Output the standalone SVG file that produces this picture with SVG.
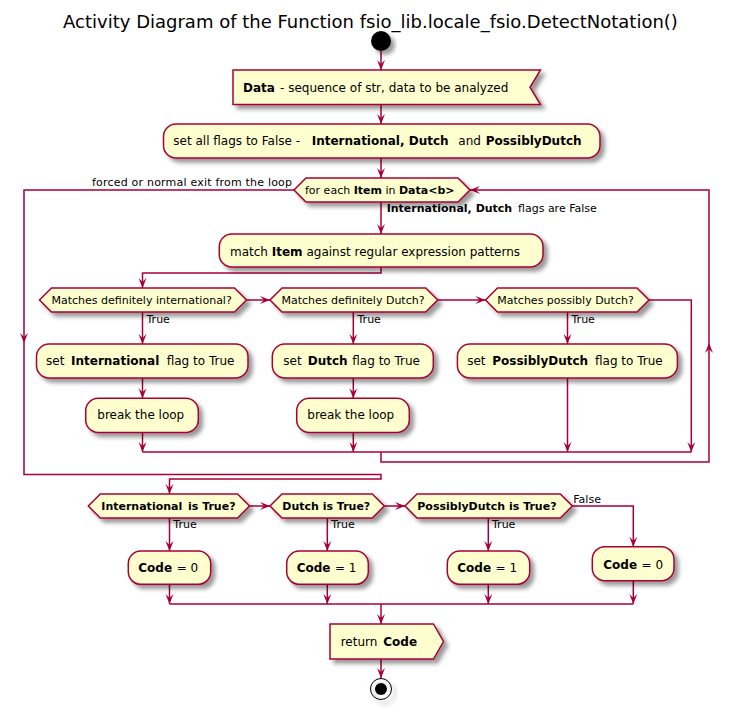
<svg xmlns="http://www.w3.org/2000/svg" width="734" height="708" viewBox="0 0 734 708">
<defs>
<filter id="sh" x="-20%" y="-40%" width="150%" height="200%">
<feGaussianBlur in="SourceAlpha" stdDeviation="2" result="b"/>
<feColorMatrix in="b" type="matrix" values="0 0 0 0 0  0 0 0 0 0  0 0 0 0 0  0 0 0 0.4 0" result="b2"/>
<feOffset in="b2" dx="4" dy="4" result="b3"/>
<feBlend in="SourceGraphic" in2="b3" mode="normal"/>
</filter>
<marker id="ah" viewBox="-11 -5 12 10" refX="0" refY="0" markerWidth="12" markerHeight="10" markerUnits="userSpaceOnUse" orient="auto">
<path d="M0,0 L-10,-4 L-6,0 L-10,4 Z" fill="#A80036"/>
</marker>
</defs>
<style>
.n{fill:#FEFECE;stroke:#A80036;stroke-width:1.5;filter:url(#sh)}
.c{fill:none;stroke:#A80036;stroke-width:1.5;marker-end:url(#ah)}
.l{fill:none;stroke:#A80036;stroke-width:1.5}
text{font-family:"DejaVu Sans","Liberation Sans",sans-serif;fill:#000}
.t12{font-size:12px}
.t11{font-size:11px}
.b{font-weight:bold}
</style>
<rect width="734" height="708" fill="#FFFFFF"/>
<text x="370.5" y="28" style="font-size:18px" text-anchor="middle">Activity Diagram of the Function fsio_lib.locale_fsio.DetectNotation()</text>

<g id="connectors">
<path class="c" d="M381,51 L381,70"/>
<path class="c" d="M381,104.5 L381,124"/>
<path class="c" d="M381,158 L381,178"/>
<path class="c" d="M381,202 L381,234"/>
<path class="c" d="M381,267 L381,273 L142.5,273 L142.5,288"/>
<path class="c" d="M246.5,300 L270,300"/>
<path class="c" d="M437.7,300 L485.5,300"/>
<path class="c" d="M649,300 L691.3,300 L691.3,452"/>
<path class="c" d="M142.5,312 L142.5,344"/>
<path class="c" d="M142.5,378 L142.5,398.3"/>
<path class="c" d="M142.5,432.5 L142.5,452"/>
<path class="c" d="M353.3,312 L353.3,344"/>
<path class="c" d="M353.3,378 L353.3,398.3"/>
<path class="c" d="M353.3,432.5 L353.3,452"/>
<path class="c" d="M567.5,312 L567.5,344"/>
<path class="c" d="M567.5,378 L567.5,452"/>
<path class="l" d="M142.5,452 L691.3,452"/>
<path class="c" d="M381,452 L381,462 L709,462 L709,343"/>
<path class="c" d="M709,343 L709,190 L470,190"/>
<path class="c" d="M294,190 L24,190 L24,343"/>
<path class="c" d="M24,343 L24,474.5 L381,474.5 L381,479 L169.5,479 L169.5,494"/>
<path class="c" d="M249.5,506 L270,506"/>
<path class="c" d="M384.3,506 L405,506"/>
<path class="c" d="M572.3,506 L633.3,506 L633.3,546.7"/>
<path class="c" d="M169.5,518 L169.5,551"/>
<path class="c" d="M327.3,518 L327.3,551"/>
<path class="c" d="M488.3,518 L488.3,551"/>
<path class="c" d="M169.5,584.3 L169.5,604"/>
<path class="c" d="M327.3,584.3 L327.3,604"/>
<path class="c" d="M488.3,584.3 L488.3,604"/>
<path class="c" d="M633.3,580.7 L633.3,604"/>
<path class="l" d="M169.5,604 L633.3,604"/>
<path class="c" d="M381,604 L381,624"/>
<path class="c" d="M381,659 L381,678"/>
<text class="t11" x="92" y="186" textLength="200" lengthAdjust="spacing">forced or normal exit from the loop</text>
<text class="t11" x="386.7" y="212.3"><tspan class="b">International, Dutch</tspan><tspan x="518">flags are False</tspan></text>
<text class="t11" x="146.5" y="322.7">True</text>
<text class="t11" x="357.5" y="322.7">True</text>
<text class="t11" x="571.5" y="322.7">True</text>
<text class="t11" x="173.3" y="527.7">True</text>
<text class="t11" x="331.3" y="527.7">True</text>
<text class="t11" x="492" y="527.7">True</text>
<text class="t11" x="573.3" y="503">False</text>
</g>

<g id="start">
<circle cx="381" cy="41" r="10" fill="#000000" filter="url(#sh)"/>
</g>

<g id="data">
<polygon class="n" points="233,70 540.5,70 530,87.25 540.5,104.5 233,104.5"/>
<text class="t12" x="243" y="91.5"><tspan class="b">Data</tspan><tspan x="280">- sequence of str, data to be analyzed</tspan></text>
</g>

<g id="setflags">
<rect class="n" x="163.5" y="124" width="436.5" height="34" rx="12.5"/>
<text class="t12" x="173.3" y="145">set all flags to False -<tspan class="b" x="311.7">International, Dutch</tspan><tspan x="458.3">and</tspan><tspan class="b" x="485.7">PossiblyDutch</tspan></text>
</g>

<g id="loop">
<polygon class="n" points="306,178 458,178 470,190 458,202 306,202 294,190"/>
<text class="t11" x="305" y="194">for each <tspan class="b">Item</tspan> in <tspan class="b">Data&lt;b&gt;</tspan></text>
</g>

<g id="match">
<rect class="n" x="219.3" y="234" width="323.7" height="33" rx="12.5"/>
<text class="t12" x="230" y="255.7">match <tspan class="b">Item</tspan> against regular expression patterns</text>
</g>

<g id="ifInt">
<polygon class="n" points="51.5,288 234.5,288 246.5,300 234.5,312 51.5,312 39.5,300"/>
<text class="t11" x="51.5" y="304">Matches definitely international?</text>
</g>

<g id="ifDutch">
<polygon class="n" points="282,288 425.7,288 437.7,300 425.7,312 282,312 270,300"/>
<text class="t11" x="281.5" y="304">Matches definitely Dutch?</text>
</g>

<g id="ifPoss">
<polygon class="n" points="497.5,288 637,288 649,300 637,312 497.5,312 485.5,300"/>
<text class="t11" x="497.3" y="304">Matches possibly Dutch?</text>
</g>

<g id="setInt">
<rect class="n" x="36.5" y="344" width="211.5" height="34" rx="12.5"/>
<text class="t12" x="46" y="365">set<tspan class="b" x="71">International</tspan><tspan x="166.7">flag to True</tspan></text>
</g>

<g id="break1">
<rect class="n" x="85.7" y="398.3" width="112.6" height="34.2" rx="12.5"/>
<text class="t12" x="97.3" y="419">break the loop</text>
</g>

<g id="setDutch">
<rect class="n" x="272.3" y="344" width="161" height="34" rx="12.5"/>
<text class="t12" x="283.3" y="365">set<tspan class="b" x="307.7">Dutch</tspan><tspan x="352.3">flag to True</tspan></text>
</g>

<g id="break2">
<rect class="n" x="296.7" y="398.3" width="112.6" height="34.2" rx="12.5"/>
<text class="t12" x="307.3" y="419">break the loop</text>
</g>

<g id="setPoss">
<rect class="n" x="457.4" y="344" width="220" height="34" rx="12.5"/>
<text class="t12" x="467.2" y="365">set<tspan class="b" x="492.3">PossiblyDutch</tspan><tspan x="595">flag to True</tspan></text>
</g>

<g id="isInt">
<polygon class="n" points="100.3,494 237.5,494 249.5,506 237.5,518 100.3,518 88.3,506"/>
<text class="t11 b" x="101.3" y="510">International<tspan x="188">is True?</tspan></text>
</g>

<g id="isDutch">
<polygon class="n" points="282,494 372.3,494 384.3,506 372.3,518 282,518 270,506"/>
<text class="t11 b" x="282.3" y="510">Dutch is True?</text>
</g>

<g id="isPoss">
<polygon class="n" points="417,494 560.3,494 572.3,506 560.3,518 417,518 405,506"/>
<text class="t11 b" x="417.3" y="510">PossiblyDutch is True?</text>
</g>

<g id="code0a">
<rect class="n" x="128.3" y="551" width="82.4" height="33.3" rx="12.5"/>
<text class="t12" x="138.3" y="572"><tspan class="b">Code</tspan><tspan x="176.7">= 0</tspan></text>
</g>

<g id="code1a">
<rect class="n" x="286.7" y="551" width="81.6" height="33.3" rx="12.5"/>
<text class="t12" x="296.7" y="572"><tspan class="b">Code</tspan><tspan x="335">= 1</tspan></text>
</g>

<g id="code1b">
<rect class="n" x="447.3" y="551" width="82.4" height="33.3" rx="12.5"/>
<text class="t12" x="457.3" y="572"><tspan class="b">Code</tspan><tspan x="495.6">= 1</tspan></text>
</g>

<g id="code0b">
<rect class="n" x="592.3" y="546.7" width="81.7" height="34" rx="12.5"/>
<text class="t12" x="603.3" y="568.5"><tspan class="b">Code</tspan><tspan x="641.6">= 0</tspan></text>
</g>

<g id="return">
<polygon class="n" points="330,624 433.5,624 443.5,641.5 433.5,659 330,659"/>
<text class="t12" x="340.7" y="645.5">return <tspan class="b" x="383.3">Code</tspan></text>
</g>

<g id="stop">
<circle cx="381" cy="689" r="10.5" fill="none" stroke="#000000" stroke-width="1" filter="url(#sh)"/>
<circle cx="381" cy="689" r="6" fill="#000000"/>
</g>
</svg>
